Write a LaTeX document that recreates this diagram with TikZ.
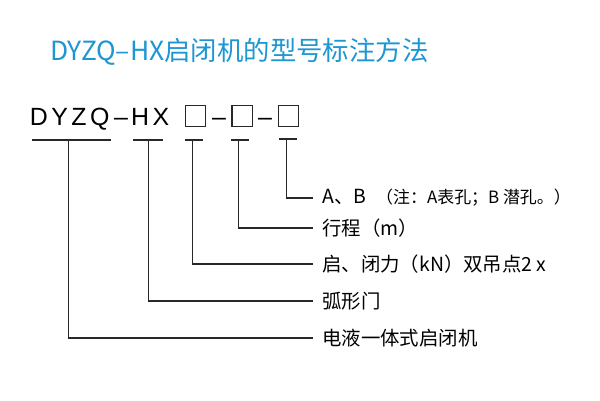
\documentclass[tikz,border=0pt]{standalone}
\usepackage{fontspec}
\setmainfont{Liberation Sans}
\newfontfamily\cjk{Noto Sans CJK SC}
\usepackage{xcolor}
\usepackage{tikz}
\usetikzlibrary{positioning}
\definecolor{titleblue}{RGB}{30,150,210}
\definecolor{linegray}{RGB}{40,40,40}

\begin{document}
\begin{tikzpicture}[x=1bp, y=-1bp,
    title/.style={anchor=base west, inner sep=0, text=titleblue, font=\cjk\fontsize{26.5}{27}\selectfont},
    code/.style={anchor=base west, inner sep=0, font=\fontsize{25}{25}\selectfont\addfontfeature{LetterSpace=14}},
    box/.style={draw=linegray, line width=1.2bp, minimum size=20.5bp, inner sep=0},
    uline/.style={draw=linegray, line width=1.3bp},
    conn/.style={draw=linegray, line width=1.3bp},
    lbl/.style={anchor=west, inner xsep=9bp, inner ysep=0, font=\cjk\fontsize{19.5}{20}\selectfont},
]
    \useasboundingbox (0,0) rectangle (600,400);

    % Title
    \node[title] (T) at (50,60) {DYZQ–HX启闭机的型号标注方法};

    % Model code
    \node[code] (C-1) at (29.7,125) {DYZQ};
    \node[code] (D-1) at (114,125) {–};
    \node[code] (C-2) at (131,125) {HX};
    \node[box] (B-1) at (195.5,116) {};
    \node[code] (D-2) at (212,125) {–};
    \node[box] (B-2) at (242.2,116) {};
    \node[code] (D-3) at (258,125) {–};
    \node[box] (B-3) at (288.5,116) {};

    % Underlines
    \foreach \l/\r/\m/\i in {31.7/110.7/68.3/1, 133/162.7/148.3/2, 184.5/202.7/192.7/3, 230.7/249.3/238.3/4}
    {
        \draw[uline] (\l,140) -- (\r,140);
        \coordinate (U-\i) at (\m,140);
    }
    \draw[uline, line width=2.2bp] (279,139) -- (297.3,139);
    \coordinate (U-5) at (286.7,139);

    % Labels
    \node[lbl] (L-5) at (313,198) {A、B\hspace{10bp}{\cjk\fontsize{17}{17}\selectfont（注：A表孔；B 潜孔。）}};
    \node[lbl] (L-4) at (313,228) {行程（m）};
    \node[lbl] (L-3) at (313,264) {启、闭力（kN）双吊点2 x};
    \node[lbl] (L-2) at (313,301) {弧形门};
    \node[lbl] (L-1) at (313,338) {电液一体式启闭机};

    % Connections
    \foreach \i in {1,...,5}
        \draw[conn] (U-\i) |- (L-\i.west);
\end{tikzpicture}
\end{document}
